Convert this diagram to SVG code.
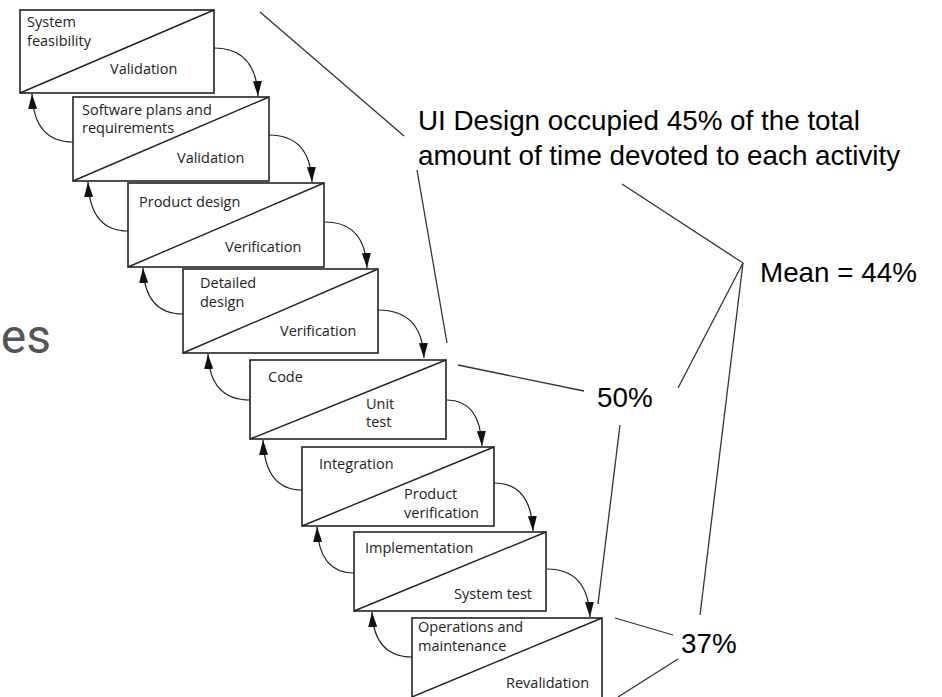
<svg xmlns="http://www.w3.org/2000/svg" width="942" height="697" viewBox="0 0 942 697">
  <defs>
    <marker id="head" viewBox="0 0 15 9" refX="15" refY="4.5" markerWidth="15" markerHeight="9" markerUnits="userSpaceOnUse" orient="auto">
      <path d="M0,0 L15,4.5 L0,9 Z" fill="#111"/>
    </marker>
    <style>
      .box { fill: #fff; stroke: #222; stroke-width: 1.6; }
      .diag { stroke: #222; stroke-width: 1.4; fill: none; }
      .lbl { font-family: "Open Sans", "Noto Sans", sans-serif; font-size: 14.5px; fill: #222; }
      .loop { fill: none; stroke: #222; stroke-width: 1.2; marker-end: url(#head); }
      .lead { stroke: #333; stroke-width: 1.3; fill: none; }
      .note { font-family: "Liberation Sans", Arial, sans-serif; font-size: 27.8px; fill: #000; }
      .faded { font-family: "Roboto", "Open Sans", sans-serif; font-size: 48px; fill: #555; }
    </style>
  </defs>

  <rect width="942" height="697" fill="#fff"/>

  <!-- partially visible heading word -->
  <text class="faded" x="51" y="353" text-anchor="end">es</text>

  <!-- leader lines and percentage notes -->
  <g id="leaders">
    <line class="lead" x1="260" y1="12" x2="404" y2="136"/>
    <line class="lead" x1="417" y1="170" x2="447" y2="343"/>
    <line class="lead" x1="622" y1="184" x2="743" y2="263"/>
    <line class="lead" x1="743" y1="263" x2="678" y2="388"/>
    <line class="lead" x1="743" y1="263" x2="700" y2="615"/>
    <line class="lead" x1="458" y1="365" x2="584" y2="391"/>
    <line class="lead" x1="620" y1="425" x2="598" y2="604"/>
    <line class="lead" x1="615" y1="618" x2="673" y2="635"/>
    <line class="lead" x1="678" y1="659" x2="618" y2="697"/>
  </g>
  <g id="notes">
    <text class="note" x="418" y="130">UI Design occupied 45% of the total</text>
    <text class="note" x="418" y="165">amount of time devoted to each activity</text>
    <text class="note" x="760" y="282">Mean = 44%</text>
    <text class="note" x="597" y="407">50%</text>
    <text class="note" x="681" y="653">37%</text>
  </g>

  <!-- forward / backward loops between stages -->
  <g id="connectors">
    <path class="loop" d="M214,48 Q256,48 258,96"/>
    <path class="loop" d="M269,135 Q310,135 312,182"/>
    <path class="loop" d="M325,222 Q365,222 367,268"/>
    <path class="loop" d="M378,310 Q422,310 424,358"/>
    <path class="loop" d="M447,400 Q480,400 482,446"/>
    <path class="loop" d="M494,483 Q531,483 533,531"/>
    <path class="loop" d="M547,569 Q588,569 590,617"/>

    <path class="loop" d="M73,142 Q34,142 32,94"/>
    <path class="loop" d="M128,231 Q90,231 88,182"/>
    <path class="loop" d="M183,314 Q145,314 143,268"/>
    <path class="loop" d="M250,400 Q210,400 208,354"/>
    <path class="loop" d="M302,490 Q265,490 263,440"/>
    <path class="loop" d="M354,573 Q319,573 317,527"/>
    <path class="loop" d="M412,657 Q374,657 372,612"/>
  </g>

  <g id="system-feasibility">
    <rect class="box" x="20" y="10" width="194" height="83"/>
    <line class="diag" x1="20" y1="93" x2="214" y2="10"/>
    <text class="lbl" x="27" y="27">System</text>
    <text class="lbl" x="27" y="46">feasibility</text>
    <text class="lbl" x="110" y="74">Validation</text>
  </g>

  <g id="software-plans">
    <rect class="box" x="73" y="97" width="196" height="84"/>
    <line class="diag" x1="73" y1="181" x2="269" y2="97"/>
    <text class="lbl" x="82" y="115">Software plans and</text>
    <text class="lbl" x="82" y="133">requirements</text>
    <text class="lbl" x="177" y="163">Validation</text>
  </g>

  <g id="product-design">
    <rect class="box" x="128" y="183" width="196" height="84"/>
    <line class="diag" x1="128" y1="267" x2="324" y2="183"/>
    <text class="lbl" x="139" y="207">Product design</text>
    <text class="lbl" x="225" y="252">Verification</text>
  </g>

  <g id="detailed-design">
    <rect class="box" x="183" y="269" width="195" height="84"/>
    <line class="diag" x1="183" y1="353" x2="378" y2="269"/>
    <text class="lbl" x="200" y="288">Detailed</text>
    <text class="lbl" x="200" y="307">design</text>
    <text class="lbl" x="280" y="336">Verification</text>
  </g>

  <g id="code">
    <rect class="box" x="250" y="360" width="196" height="79"/>
    <line class="diag" x1="250" y1="439" x2="446" y2="360"/>
    <text class="lbl" x="268" y="382">Code</text>
    <text class="lbl" x="366" y="409">Unit</text>
    <text class="lbl" x="366" y="427">test</text>
  </g>

  <g id="integration">
    <rect class="box" x="302" y="447" width="192" height="79"/>
    <line class="diag" x1="302" y1="526" x2="494" y2="447"/>
    <text class="lbl" x="319" y="469">Integration</text>
    <text class="lbl" x="404" y="499">Product</text>
    <text class="lbl" x="404" y="518">verification</text>
  </g>

  <g id="implementation">
    <rect class="box" x="354" y="532" width="192" height="79"/>
    <line class="diag" x1="354" y1="611" x2="546" y2="532"/>
    <text class="lbl" x="365" y="553">Implementation</text>
    <text class="lbl" x="454" y="599">System test</text>
  </g>

  <g id="operations">
    <rect class="box" x="412" y="618" width="190" height="82"/>
    <line class="diag" x1="412" y1="697" x2="602" y2="618"/>
    <text class="lbl" x="418" y="632">Operations and</text>
    <text class="lbl" x="418" y="651">maintenance</text>
    <text class="lbl" x="506" y="688">Revalidation</text>
  </g>
</svg>
